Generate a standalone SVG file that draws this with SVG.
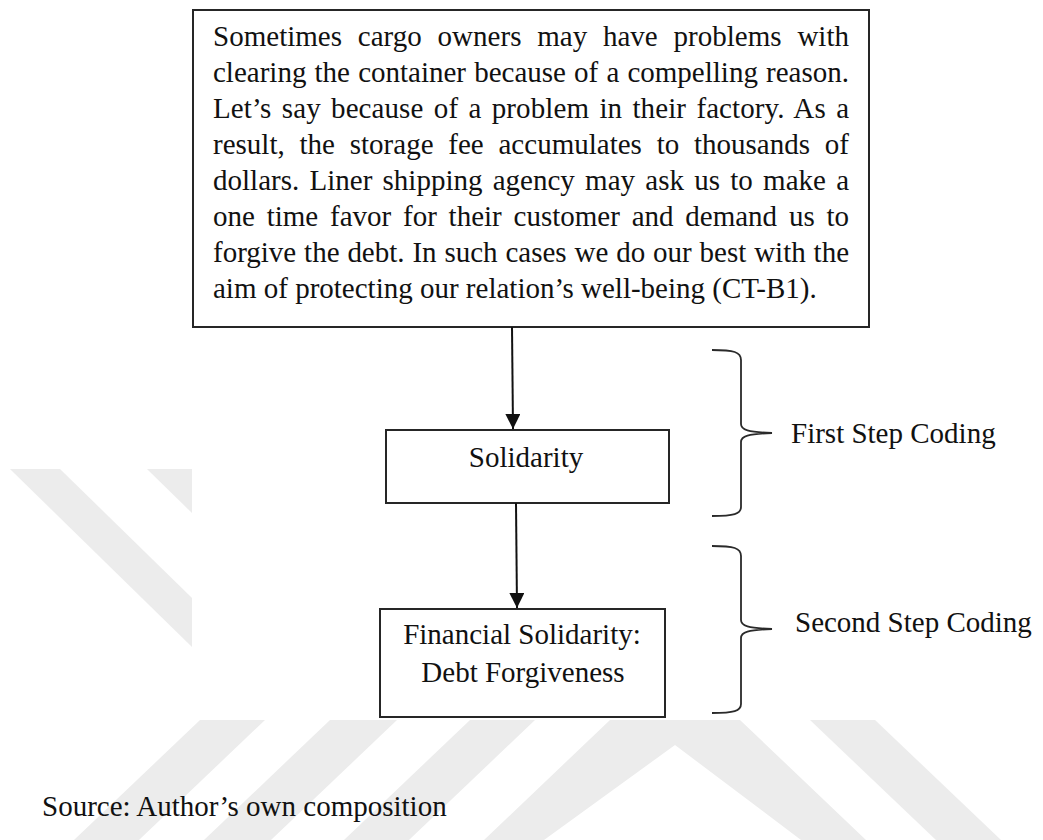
<svg xmlns="http://www.w3.org/2000/svg" width="1043" height="840" viewBox="0 0 1043 840">
  <defs>
    <style>
      .bg { fill: #ffffff; }
      .wm { fill: #ececec; }
      .box { fill: #ffffff; stroke: #262626; stroke-width: 2; }
      .txt { font-family: "Liberation Serif", "Times New Roman", serif; font-size: 29px; fill: #111111; }
      .mid { text-anchor: middle; }
      .edge { fill: none; stroke: #111111; stroke-width: 2; }
      .brace { fill: none; stroke: #2a2a2a; stroke-width: 1.8; }
    </style>
    <marker id="arrowhead" markerUnits="userSpaceOnUse" markerWidth="16" markerHeight="15" refX="15" refY="7.5" orient="auto">
      <path d="M0,0 L15,7.5 L0,15 Z" fill="#111111"/>
    </marker>
  </defs>

  <rect class="bg" x="0" y="0" width="1043" height="840"/>

  <!-- faint background watermark bands -->
  <g id="watermark">
    <polygon class="wm" points="10,469 60,469 192,598 192,647"/>
    <polygon class="wm" points="147,469 192,469 192,513"/>
    <polygon class="wm" points="200,720 265,720 139,840 74,840"/>
    <polygon class="wm" points="330,720 397,720 271,840 204,840"/>
    <polygon class="wm" points="470,720 535,720 409,840 344,840"/>
    <polygon class="wm" points="610,720 740,720 866,840 801,840 675,745 544,840 484,840"/>
    <polygon class="wm" points="810,720 875,720 1001,840 936,840"/>
  </g>

  <!-- quotation box -->
  <g id="quote">
    <rect class="box" x="193" y="10" width="676" height="317"/>
    <text class="txt" x="213" y="46" word-spacing="8.5" textLength="636" lengthAdjust="spacing">Sometimes cargo owners may have problems with</text>
    <text class="txt" x="213" y="82" word-spacing="0.9" textLength="636" lengthAdjust="spacing">clearing the container because of a compelling reason.</text>
    <text class="txt" x="213" y="118" word-spacing="3" textLength="636" lengthAdjust="spacing">Let’s say because of a problem in their factory. As a</text>
    <text class="txt" x="213" y="154" word-spacing="7.5" textLength="636" lengthAdjust="spacing">result, the storage fee accumulates to thousands of</text>
    <text class="txt" x="213" y="190" word-spacing="3" textLength="636" lengthAdjust="spacing">dollars. Liner shipping agency may ask us to make a</text>
    <text class="txt" x="213" y="226" word-spacing="4.5" textLength="636" lengthAdjust="spacing">one time favor for their customer and demand us to</text>
    <text class="txt" x="213" y="262" word-spacing="0.6" textLength="636" lengthAdjust="spacing">forgive the debt. In such cases we do our best with the</text>
    <text class="txt" x="213" y="298">aim of protecting our relation’s well-being (CT-B1).</text>
  </g>

  <!-- first-level code -->
  <g id="solidarity">
    <rect class="box" x="386" y="430" width="283" height="73"/>
    <text class="txt mid" x="526" y="467">Solidarity</text>
  </g>

  <!-- second-level code -->
  <g id="financial">
    <rect class="box" x="380" y="609" width="285" height="108"/>
    <text class="txt mid" x="522" y="644">Financial Solidarity:</text>
    <text class="txt mid" x="523" y="682">Debt Forgiveness</text>
  </g>

  <!-- coding step braces and labels -->
  <g id="first-step">
    <path class="brace" d="M712 350 C734 350 741 352 741 360 L741 424 C741 430 748 432 772 433 C748 434 741 436 741 442 L741 507 C741 514 734 516 712 516"/>
    <text class="txt" x="791" y="443">First Step Coding</text>
  </g>
  <g id="second-step">
    <path class="brace" d="M712 546 C734 546 741 548 741 556 L741 620 C741 626 748 628 772 629 C748 630 741 632 741 638 L741 704 C741 711 734 713 712 713"/>
    <text class="txt" x="795" y="632">Second Step Coding</text>
  </g>

  <!-- connectors -->
  <g id="connectors">
    <line class="edge" x1="512" y1="327" x2="513" y2="429" marker-end="url(#arrowhead)"/>
    <line class="edge" x1="516" y1="503" x2="517" y2="608" marker-end="url(#arrowhead)"/>
  </g>

  <g id="caption">
    <text class="txt" x="42" y="816">Source: Author’s own composition</text>
  </g>
</svg>
